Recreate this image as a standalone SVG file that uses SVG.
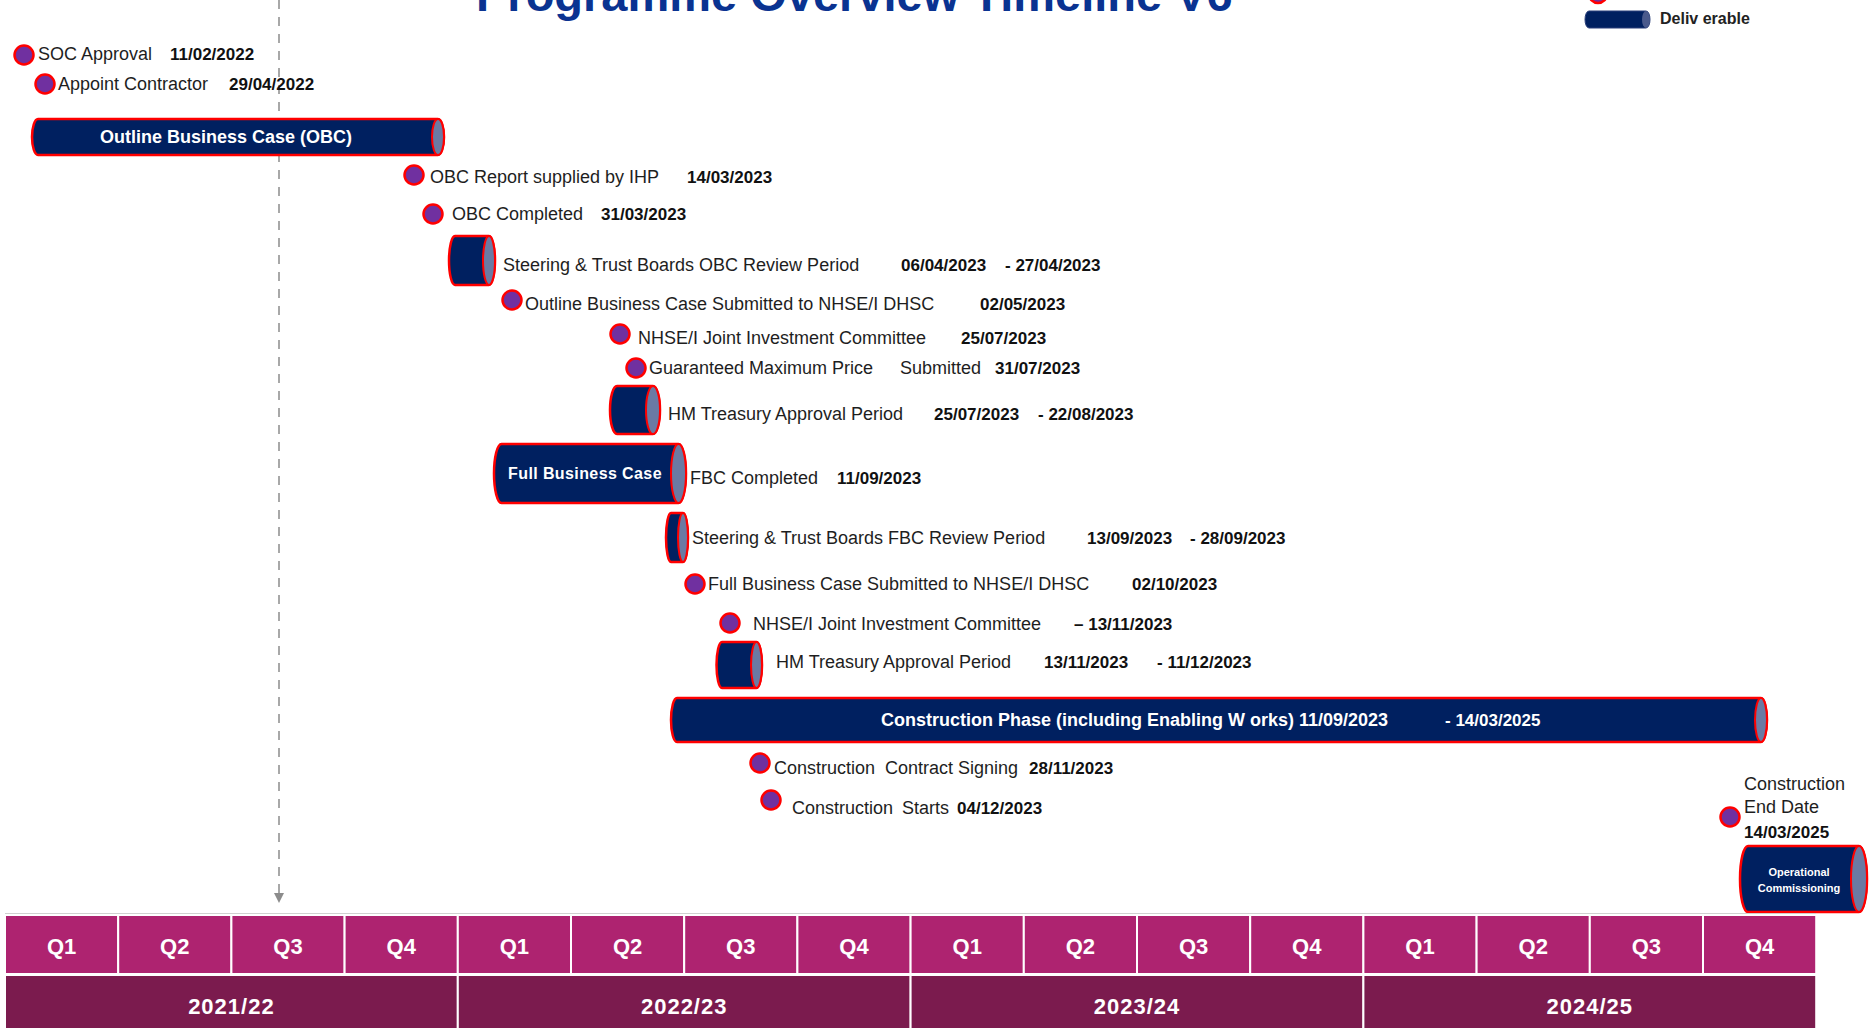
<svg xmlns="http://www.w3.org/2000/svg" width="1870" height="1028" viewBox="0 0 1870 1028">
<defs>
<style>
text{font-family:'Liberation Sans',Arial,sans-serif}
.title{font-size:47px;font-weight:bold;fill:#0a3391}
.lb{font-size:18px;fill:#1e1e1e}
.dt{font-size:17px;font-weight:bold;fill:#111}
.bt{font-size:18px;font-weight:bold;fill:#fff}
.ms{fill:#7030a0;stroke:#ff0000;stroke-width:2.5}
.cyl{fill:#002060;stroke:#ff0000;stroke-width:2.5}
.cap{fill:#6b7aa3;stroke:#ff0000;stroke-width:2}
.q{fill:#ae2370;stroke:#fff;stroke-width:2}
.y{fill:#7b1b4e;stroke:#fff;stroke-width:2}
.qt{font-size:22px;font-weight:bold;fill:#fff;text-anchor:middle}
.yt{font-size:22px;font-weight:bold;fill:#fff;text-anchor:middle;letter-spacing:1px}
</style>
<marker id="arr" viewBox="0 0 10 10" refX="5" refY="10" markerWidth="10" markerHeight="10" markerUnits="userSpaceOnUse" orient="auto-start-reverse">
<path d="M0,0 L10,0 L5,10 Z" fill="#8c8c8c"/>
</marker>
</defs>
<rect width="1870" height="1028" fill="#fff"/>

<text class="title" x="476" y="11">Programme Overview Timeline V6</text>

<g id="legend">
<circle class="ms" cx="1598" cy="-6" r="9"/>
<path d="M1589,11 H1646 A4,8.5 0 0 1 1646,28 H1589 A4,8.5 0 0 1 1589,11 Z" fill="#002060" stroke="#2b3f7a" stroke-width="1"/>
<ellipse cx="1646" cy="19.5" rx="4" ry="8.5" fill="#4a5a8c"/>
<text x="1660" y="24" style="font-size:16px;font-weight:bold;fill:#222">Deliv erable</text>
</g>

<g id="connectors">
<line x1="279" y1="0" x2="279" y2="893" stroke="#8c8c8c" stroke-width="1.5" stroke-dasharray="9,8"/>
<path d="M274,893 L284,893 L279,903 Z" fill="#8c8c8c"/>
</g>

<g id="soc-approval">
<circle class="ms" cx="24" cy="55" r="9.5"/>
<text class="lb" x="38" y="60">SOC Approval</text>
<text class="dt" x="170" y="60">11/02/2022</text>
</g>
<g id="appoint-contractor">
<circle class="ms" cx="45" cy="84" r="9.5"/>
<text class="lb" x="58" y="90">Appoint Contractor</text>
<text class="dt" x="229" y="90">29/04/2022</text>
</g>
<g id="obc">
<path class="cyl" d="M38,119 H438 A6,18 0 0 1 438,155 H38 A6,18 0 0 1 38,119 Z"/>
<ellipse class="cap" cx="438" cy="137" rx="6" ry="18"/>
<text class="bt" x="226" y="143" text-anchor="middle">Outline Business Case (OBC)</text>
</g>
<g id="obc-report">
<circle class="ms" cx="414" cy="175" r="9.5"/>
<text class="lb" x="430" y="183">OBC Report supplied by IHP</text>
<text class="dt" x="687" y="183">14/03/2023</text>
</g>
<g id="obc-completed">
<circle class="ms" cx="433" cy="214" r="9.5"/>
<text class="lb" x="452" y="220">OBC Completed</text>
<text class="dt" x="601" y="220">31/03/2023</text>
</g>
<g id="steering-obc">
<path class="cyl" d="M455,236 H489 A6,24.5 0 0 1 489,285 H455 A6,24.5 0 0 1 455,236 Z"/>
<ellipse class="cap" cx="489" cy="260.5" rx="6" ry="24.5"/>
<text class="lb" x="503" y="271">Steering &amp; Trust Boards OBC Review Period</text>
<text class="dt" x="901" y="271">06/04/2023</text>
<text class="dt" x="1005" y="271">- 27/04/2023</text>
</g>
<g id="obc-submitted">
<circle class="ms" cx="512" cy="300" r="9.5"/>
<text class="lb" x="525" y="310">Outline Business Case Submitted to NHSE/I DHSC</text>
<text class="dt" x="980" y="310">02/05/2023</text>
</g>
<g id="jic-1">
<circle class="ms" cx="620" cy="334" r="9.5"/>
<text class="lb" x="638" y="344">NHSE/I Joint Investment Committee</text>
<text class="dt" x="961" y="344">25/07/2023</text>
</g>
<g id="gmp">
<circle class="ms" cx="636" cy="368" r="9.5"/>
<text class="lb" x="649" y="374">Guaranteed Maximum Price</text>
<text class="lb" x="900" y="374">Submitted</text>
<text class="dt" x="995" y="374">31/07/2023</text>
</g>
<g id="hmt-1">
<path class="cyl" d="M617,386 H653 A7,24 0 0 1 653,434 H617 A7,24 0 0 1 617,386 Z"/>
<ellipse class="cap" cx="653" cy="410" rx="7" ry="24"/>
<text class="lb" x="668" y="420">HM Treasury Approval Period</text>
<text class="dt" x="934" y="420">25/07/2023</text>
<text class="dt" x="1038" y="420">- 22/08/2023</text>
</g>
<g id="fbc">
<path class="cyl" d="M501.5,444 H678.5 A7.5,29.5 0 0 1 678.5,503 H501.5 A7.5,29.5 0 0 1 501.5,444 Z"/>
<ellipse class="cap" cx="678.5" cy="473.5" rx="7.5" ry="29.5"/>
<text class="bt" x="585" y="479" text-anchor="middle" style="font-size:16px;letter-spacing:0.4px">Full Business Case</text>
</g>
<g id="fbc-completed">
<text class="lb" x="690" y="484">FBC Completed</text>
<text class="dt" x="837" y="484">11/09/2023</text>
</g>
<g id="steering-fbc">
<path class="cyl" d="M671,513 H683 A5,24.5 0 0 1 683,562 H671 A5,24.5 0 0 1 671,513 Z"/>
<ellipse class="cap" cx="683" cy="537.5" rx="5" ry="24.5"/>
<text class="lb" x="692" y="544">Steering &amp; Trust Boards FBC Review Period</text>
<text class="dt" x="1087" y="544">13/09/2023</text>
<text class="dt" x="1190" y="544">- 28/09/2023</text>
</g>
<g id="fbc-submitted">
<circle class="ms" cx="695" cy="584" r="9.5"/>
<text class="lb" x="708" y="590">Full Business Case Submitted to NHSE/I DHSC</text>
<text class="dt" x="1132" y="590">02/10/2023</text>
</g>
<g id="jic-2">
<circle class="ms" cx="730" cy="623" r="9.5"/>
<text class="lb" x="753" y="630">NHSE/I Joint Investment Committee</text>
<text class="dt" x="1074" y="630">– 13/11/2023</text>
</g>
<g id="hmt-2">
<path class="cyl" d="M722,642 H756.5 A5.5,23 0 0 1 756.5,688 H722 A5.5,23 0 0 1 722,642 Z"/>
<ellipse class="cap" cx="756.5" cy="665" rx="5.5" ry="23"/>
<text class="lb" x="776" y="668">HM Treasury Approval Period</text>
<text class="dt" x="1044" y="668">13/11/2023</text>
<text class="dt" x="1157" y="668">- 11/12/2023</text>
</g>
<g id="construction-phase">
<path class="cyl" d="M677,698 H1761 A6,22 0 0 1 1761,742 H677 A6,22 0 0 1 677,698 Z"/>
<ellipse class="cap" cx="1761" cy="720" rx="6" ry="22"/>
<text class="bt" x="881" y="726">Construction Phase (including Enabling W orks) 11/09/2023</text>
<text class="bt" x="1445" y="726" style="font-size:17px">- 14/03/2025</text>
</g>
<g id="contract-signing">
<circle class="ms" cx="760" cy="763" r="9.5"/>
<text class="lb" x="774" y="774">Construction</text>
<text class="lb" x="885" y="774">Contract Signing</text>
<text class="dt" x="1029" y="774">28/11/2023</text>
</g>
<g id="construction-starts">
<circle class="ms" cx="771" cy="800" r="9.5"/>
<text class="lb" x="792" y="814">Construction</text>
<text class="lb" x="902" y="814">Starts</text>
<text class="dt" x="957" y="814">04/12/2023</text>
</g>
<g id="construction-end">
<circle class="ms" cx="1730" cy="817" r="9.5"/>
<text class="lb" x="1744" y="790">Construction</text>
<text class="lb" x="1744" y="813">End Date</text>
<text class="dt" x="1744" y="838">14/03/2025</text>
</g>
<g id="operational-commissioning">
<path class="cyl" d="M1748,846 H1859 A8,33 0 0 1 1859,912 H1748 A8,33 0 0 1 1748,846 Z"/>
<ellipse class="cap" cx="1859" cy="879" rx="8" ry="33"/>
<text x="1799" y="876" text-anchor="middle" style="font-size:11px;font-weight:bold;fill:#fff">Operational</text>
<text x="1799" y="892" text-anchor="middle" style="font-size:11px;font-weight:bold;fill:#fff">Commissioning</text>
</g>

<g id="timeline-grid">
<line x1="5" y1="914" x2="1816" y2="914" stroke="#d0d0d0" stroke-width="2"/>
<rect class="q" x="5" y="915" width="113.2" height="59"/>
<rect class="q" x="118.2" y="915" width="113.2" height="59"/>
<rect class="q" x="231.4" y="915" width="113.2" height="59"/>
<rect class="q" x="344.6" y="915" width="113.2" height="59"/>
<rect class="q" x="457.8" y="915" width="113.2" height="59"/>
<rect class="q" x="571" y="915" width="113.2" height="59"/>
<rect class="q" x="684.2" y="915" width="113.2" height="59"/>
<rect class="q" x="797.4" y="915" width="113.2" height="59"/>
<rect class="q" x="910.6" y="915" width="113.2" height="59"/>
<rect class="q" x="1023.8" y="915" width="113.2" height="59"/>
<rect class="q" x="1137" y="915" width="113.2" height="59"/>
<rect class="q" x="1250.2" y="915" width="113.2" height="59"/>
<rect class="q" x="1363.4" y="915" width="113.2" height="59"/>
<rect class="q" x="1476.6" y="915" width="113.2" height="59"/>
<rect class="q" x="1589.8" y="915" width="113.2" height="59"/>
<rect class="q" x="1703" y="915" width="113.2" height="59"/>
<rect class="y" x="5" y="975" width="452.8" height="60"/>
<rect class="y" x="457.8" y="975" width="452.8" height="60"/>
<rect class="y" x="910.6" y="975" width="452.8" height="60"/>
<rect class="y" x="1363.4" y="975" width="452.8" height="60"/>
<text class="qt" x="61.6" y="954">Q1</text>
<text class="qt" x="174.8" y="954">Q2</text>
<text class="qt" x="288" y="954">Q3</text>
<text class="qt" x="401.2" y="954">Q4</text>
<text class="qt" x="514.4" y="954">Q1</text>
<text class="qt" x="627.6" y="954">Q2</text>
<text class="qt" x="740.8" y="954">Q3</text>
<text class="qt" x="854" y="954">Q4</text>
<text class="qt" x="967.2" y="954">Q1</text>
<text class="qt" x="1080.4" y="954">Q2</text>
<text class="qt" x="1193.6" y="954">Q3</text>
<text class="qt" x="1306.8" y="954">Q4</text>
<text class="qt" x="1420" y="954">Q1</text>
<text class="qt" x="1533.2" y="954">Q2</text>
<text class="qt" x="1646.4" y="954">Q3</text>
<text class="qt" x="1759.6" y="954">Q4</text>
<text class="yt" x="231.4" y="1014">2021/22</text>
<text class="yt" x="684.2" y="1014">2022/23</text>
<text class="yt" x="1137" y="1014">2023/24</text>
<text class="yt" x="1589.8" y="1014">2024/25</text>
</g>
</svg>
